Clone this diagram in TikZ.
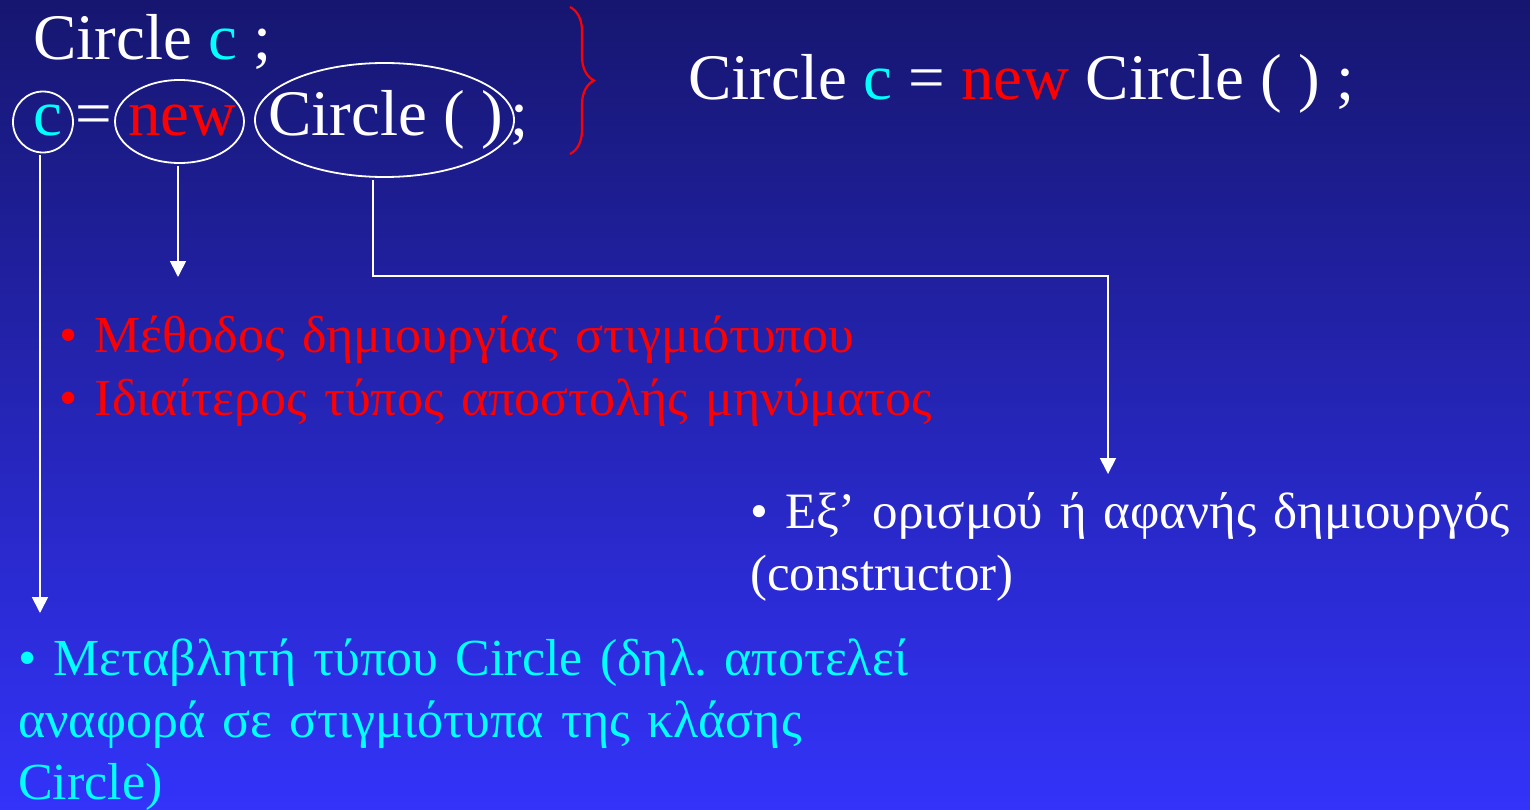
\documentclass[tikz,border=0pt]{standalone}
\usepackage{fontspec}
\setmainfont{Liberation Serif}
\usepackage{tikz}
\usetikzlibrary{arrows.meta,shapes.geometric,decorations.pathreplacing}
\frenchspacing
\definecolor{bgtop}{HTML}{161670}
\definecolor{bgbot}{HTML}{3333FA}
\definecolor{kcyan}{HTML}{00FFFF}
\definecolor{kred}{HTML}{FF0000}
\tikzset{
  code/.style={font=\fontsize{65}{70}\selectfont, text=white, inner sep=0pt, anchor=base west},
  note/.style={font=\fontsize{52}{63}\selectfont, inner sep=0pt, anchor=base west,
               text width=#1, align=left},
  ring/.style={ellipse, draw=white, line width=1.8pt, inner sep=0pt},
  arr/.style={-{Triangle[length=16pt,width=16pt]}, draw=white, line width=1.8pt, shorten <=2pt},
}

\begin{document}
\begin{tikzpicture}[x=1pt, y=-1pt]
  \shade[top color=bgtop, bottom color=bgbot] (0,0) rectangle (1530,810);
  \useasboundingbox (0,0) rectangle (1530,810);

  % declaration and creation
  \node[code] (decl) at (33,60) {Circle {\color{kcyan}c} ;};
  \node[code, text=kcyan] (cvar) at (33,136) {c};
  \node[code] (eq) at (75,136) {=};
  \node[code, text=kred] (newop) at (128,136) {new};
  \node[code] (ctor) at (268,136) {Circle ( )};
  \node[code] (semi) at (510,136) {;};
  \node[code] (full) at (688,100) {Circle {\color{kcyan}c} = {\color{kred}new} Circle ( ) ;};

  \node[ring, minimum width=60pt, minimum height=61pt] (cring) at (43,122) {};
  \node[ring, minimum width=129pt, minimum height=83pt] (newring) at (179.5,121.5) {};
  \node[ring, minimum width=259pt, minimum height=114pt] (ctorring) at (384.5,120) {};

  \draw[kred, line width=2.2pt, decorate, decoration={brace, amplitude=24pt}] (570,7) -- (570,154);

  % explanations
  \node[note=1400pt, text=kred] (newnote) at (59,352)
    {• Μέθοδος δημιουργίας στιγμιότυπου\\• Ιδιαίτερος τύπος αποστολής μηνύματος};
  \node[note=780pt, text=white, font=\fontsize{51}{62}\selectfont] (ctornote) at (750,528)
    {• Εξ’ ορισμού ή αφανής δημιουργός\\(constructor)};
  \node[note=1400pt, text=kcyan, font=\fontsize{52}{62}\selectfont] (varnote) at (18,675)
    {• Μεταβλητή τύπου Circle (δηλ. αποτελεί\\αναφορά σε στιγμιότυπα της κλάσης\\Circle)};

  \coordinate (cvarend) at (40,613);
  \coordinate (newend) at (178,277);
  \coordinate (ctorknee) at (373,276);
  \coordinate (ctorend) at (1108,474);

  \draw[arr] (cvarend |- cring.south) -- (cvarend);
  \draw[arr] (newend |- newring.south) -- (newend);
  \draw[arr] (ctorknee |- ctorring.south) -- (ctorknee) -| (ctorend);
\end{tikzpicture}
\end{document}
